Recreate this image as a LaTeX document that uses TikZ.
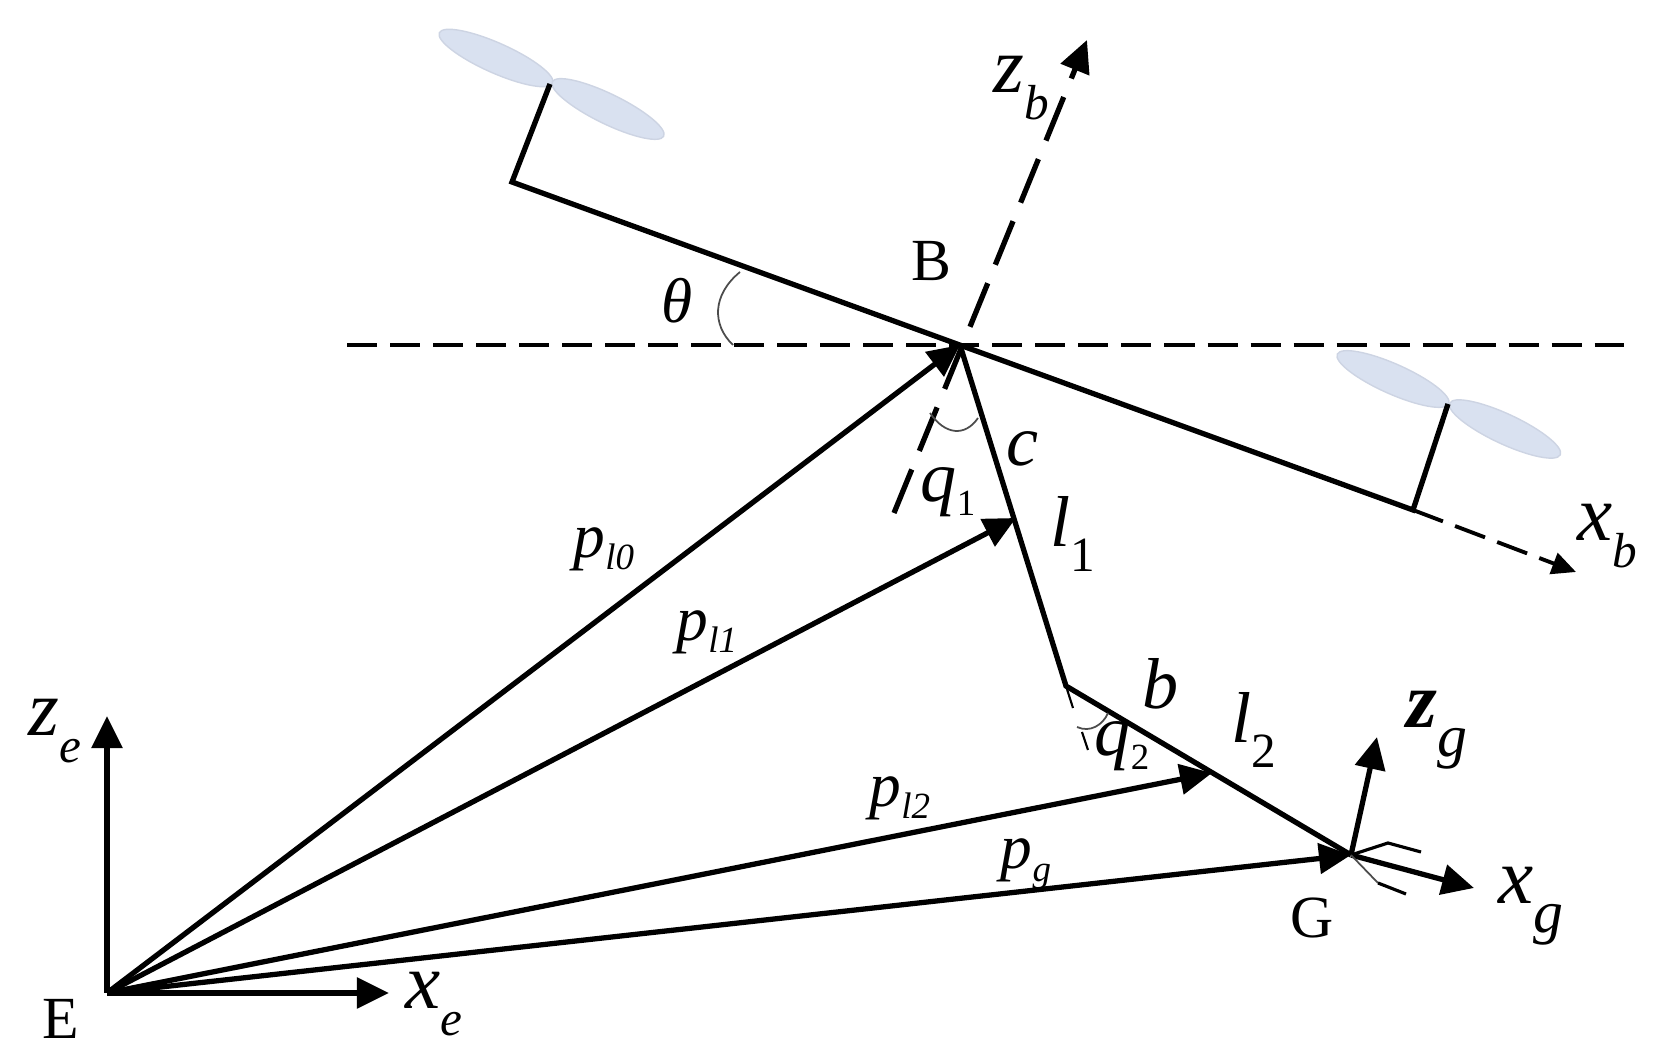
\documentclass[tikz,border=0pt]{standalone}
\usepackage{fontspec}
\setmainfont{Liberation Serif}
\usetikzlibrary{arrows.meta}
\definecolor{bladefill}{HTML}{D9E1F0}
\definecolor{bladeline}{HTML}{CDD4E3}
\tikzset{
	rod/.style = {line width=1.5pt, black},
	vec/.style = {line width=1.5pt, black, -{Triangle[length=0.32cm,width=0.3cm]}},
	dashvec/.style = {vec, dash pattern=on 0.47cm off 0.2cm},
	level/.style = {line width=1pt, dash pattern=on 0.3cm off 0.13cm},
	thinarc/.style = {line width=0.5pt, black!70},
	blade/.style = {draw=bladeline, fill=bladefill, line width=0.4pt},
	sym/.style = {inner sep=0pt, font=\fontsize{22.5}{26}\selectfont\itshape},
	linksym/.style = {inner sep=0pt, font=\fontsize{20.5}{24}\selectfont\itshape},
	smallsym/.style = {inner sep=0pt, font=\fontsize{18}{22}\selectfont\itshape},
	pointsym/.style = {inner sep=0pt, font=\fontsize{17}{20}\selectfont}
}
\newcommand{\low}[1]{\raisebox{-0.34em}{\fontsize{14}{15}\selectfont #1}}
\newcommand{\lowsm}[1]{\raisebox{-0.2em}{\fontsize{10.5}{12}\selectfont #1}}
\newcommand{\lowbig}[1]{\raisebox{-0.36em}{\fontsize{17}{18}\selectfont #1}}
\begin{document}
\begin{tikzpicture}[x=0.01cm,y=-0.01cm]
	\useasboundingbox (0,0) rectangle (1656,1064);

	% frame origins
	\coordinate (E) at (107,993);
	\coordinate (B) at (960,345);
	\coordinate (G) at (1351,855);
	\coordinate (arml) at (512,182);
	\coordinate (armr) at (1413,510);
	\coordinate (hubl) at (550,84);
	\coordinate (hubr) at (1448,404);
	\coordinate (elbow) at (1066,686);

	% propellers
	\draw[blade, rotate around={-24:(496,58)}] (496,58) ellipse (62 and 15);
	\draw[blade, rotate around={-26:(608,109)}] (608,109) ellipse (62 and 15);
	\draw[blade, rotate around={-24:(1393,379)}] (1393,379) ellipse (61 and 15);
	\draw[blade, rotate around={-25:(1505,429)}] (1505,429) ellipse (61 and 15);

	% horizontal reference and body
	\coordinate (levell) at (347,345);
	\coordinate (levelr) at (1624,345);
	\draw[level] (levell) -- (levelr);
	\draw[rod] (hubl) -- (arml) -- (armr) -- (hubr);

	% body axes
	\coordinate (zbtail) at (894,513);
	\coordinate (zbtip) at (1087,40);
	\coordinate (xbtip) at (1576,572);
	\draw[dashvec] (zbtail) -- (zbtip);
	\draw[line width=1.1pt, dash pattern=on 0.32cm off 0.13cm, -{Triangle[length=0.24cm,width=0.22cm]}] (armr) -- (xbtip);

	% links
	\draw[rod] (B) -- (elbow) -- (G);
	\coordinate (q2a) at (1073,708);
	\coordinate (q2b) at (1082,732);
	\coordinate (q2c) at (1088,750);
	\draw[line width=0.6pt] (elbow) -- (q2a);
	\draw[line width=0.6pt] (q2b) -- (q2c);

	% position vectors
	\coordinate (l1mid) at (1016,518);
	\coordinate (l2mid) at (1212,773);
	\draw[vec] (E) -- (B);
	\draw[vec] (E) -- (l1mid);
	\draw[vec] (E) -- (l2mid);
	\draw[vec] (E) -- (G);

	% inertial frame
	\coordinate (zetip) at (107,716);
	\coordinate (xetip) at (389,993);
	\draw[vec] (E) -- (zetip);
	\draw[vec] (E) -- (xetip);

	% gripper frame
	\coordinate (zgtip) at (1377,737);
	\coordinate (xgtip) at (1474,888);
	\coordinate (jawa) at (1388,843);
	\coordinate (jawb) at (1421,852);
	\coordinate (jawc) at (1378,883);
	\coordinate (jawd) at (1406,894);
	\draw[vec] (G) -- (zgtip);
	\draw[vec] (G) -- (xgtip);
	\draw[line width=0.9pt] (G) -- (jawa) -- (jawb);
	\draw[thinarc] (G) -- (jawc);
	\draw[line width=0.9pt] (jawc) -- (jawd);

	% angle arcs
	\draw[thinarc] (740,272) .. controls (712,295) and (712,325) .. (733,345);
	\draw[thinarc] (930,413) .. controls (945,435) and (965,437) .. (978,418);
	\draw[thinarc] (1077,727) .. controls (1090,733) and (1103,725) .. (1108,713);

	% labels
	\node[pointsym] (labE) at (61,1019) {E};
	\node[pointsym] (labB) at (931,261) {B};
	\node[pointsym] (labG) at (1312,918) {G};
	\node[sym] (labze) at (55,731) {z\low{e}};
	\node[sym] (labxe) at (434,1004) {x\low{e}};
	\node[sym] (labzb) at (1021,88) {z\low{b}};
	\node[sym] (labxb) at (1607,536) {x\low{b}};
	\node[sym, font=\fontsize{22.5}{26}\selectfont\bfseries\itshape] (labzg) at (1437,730) {z\lowbig{\mdseries g}};
	\node[sym] (labxg) at (1531,906) {x\lowbig{g}};
	\node[smallsym] (labth) at (677,301) {θ};
	\node[linksym] (labc) at (1022,449) {c};
	\node[linksym] (labb) at (1161,684) {b};
	\node[linksym] (labq1) at (948,492) {q\lowsm{\upshape 1}};
	\node[linksym] (labq2) at (1122,746) {q\lowsm{\upshape 2}};
	\node[linksym] (labl1) at (1073,534) {l\low{\upshape 1}};
	\node[linksym] (labl2) at (1254,730) {l\low{\upshape 2}};
	\node[smallsym] (labp0) at (604,549) {p\lowsm{l0}};
	\node[smallsym] (labp1) at (707,632) {p\lowsm{l1}};
	\node[smallsym] (labp2) at (900,798) {p\lowsm{l2}};
	\node[smallsym] (labpg) at (1026,864) {p\lowsm{g}};
\end{tikzpicture}
\end{document}
